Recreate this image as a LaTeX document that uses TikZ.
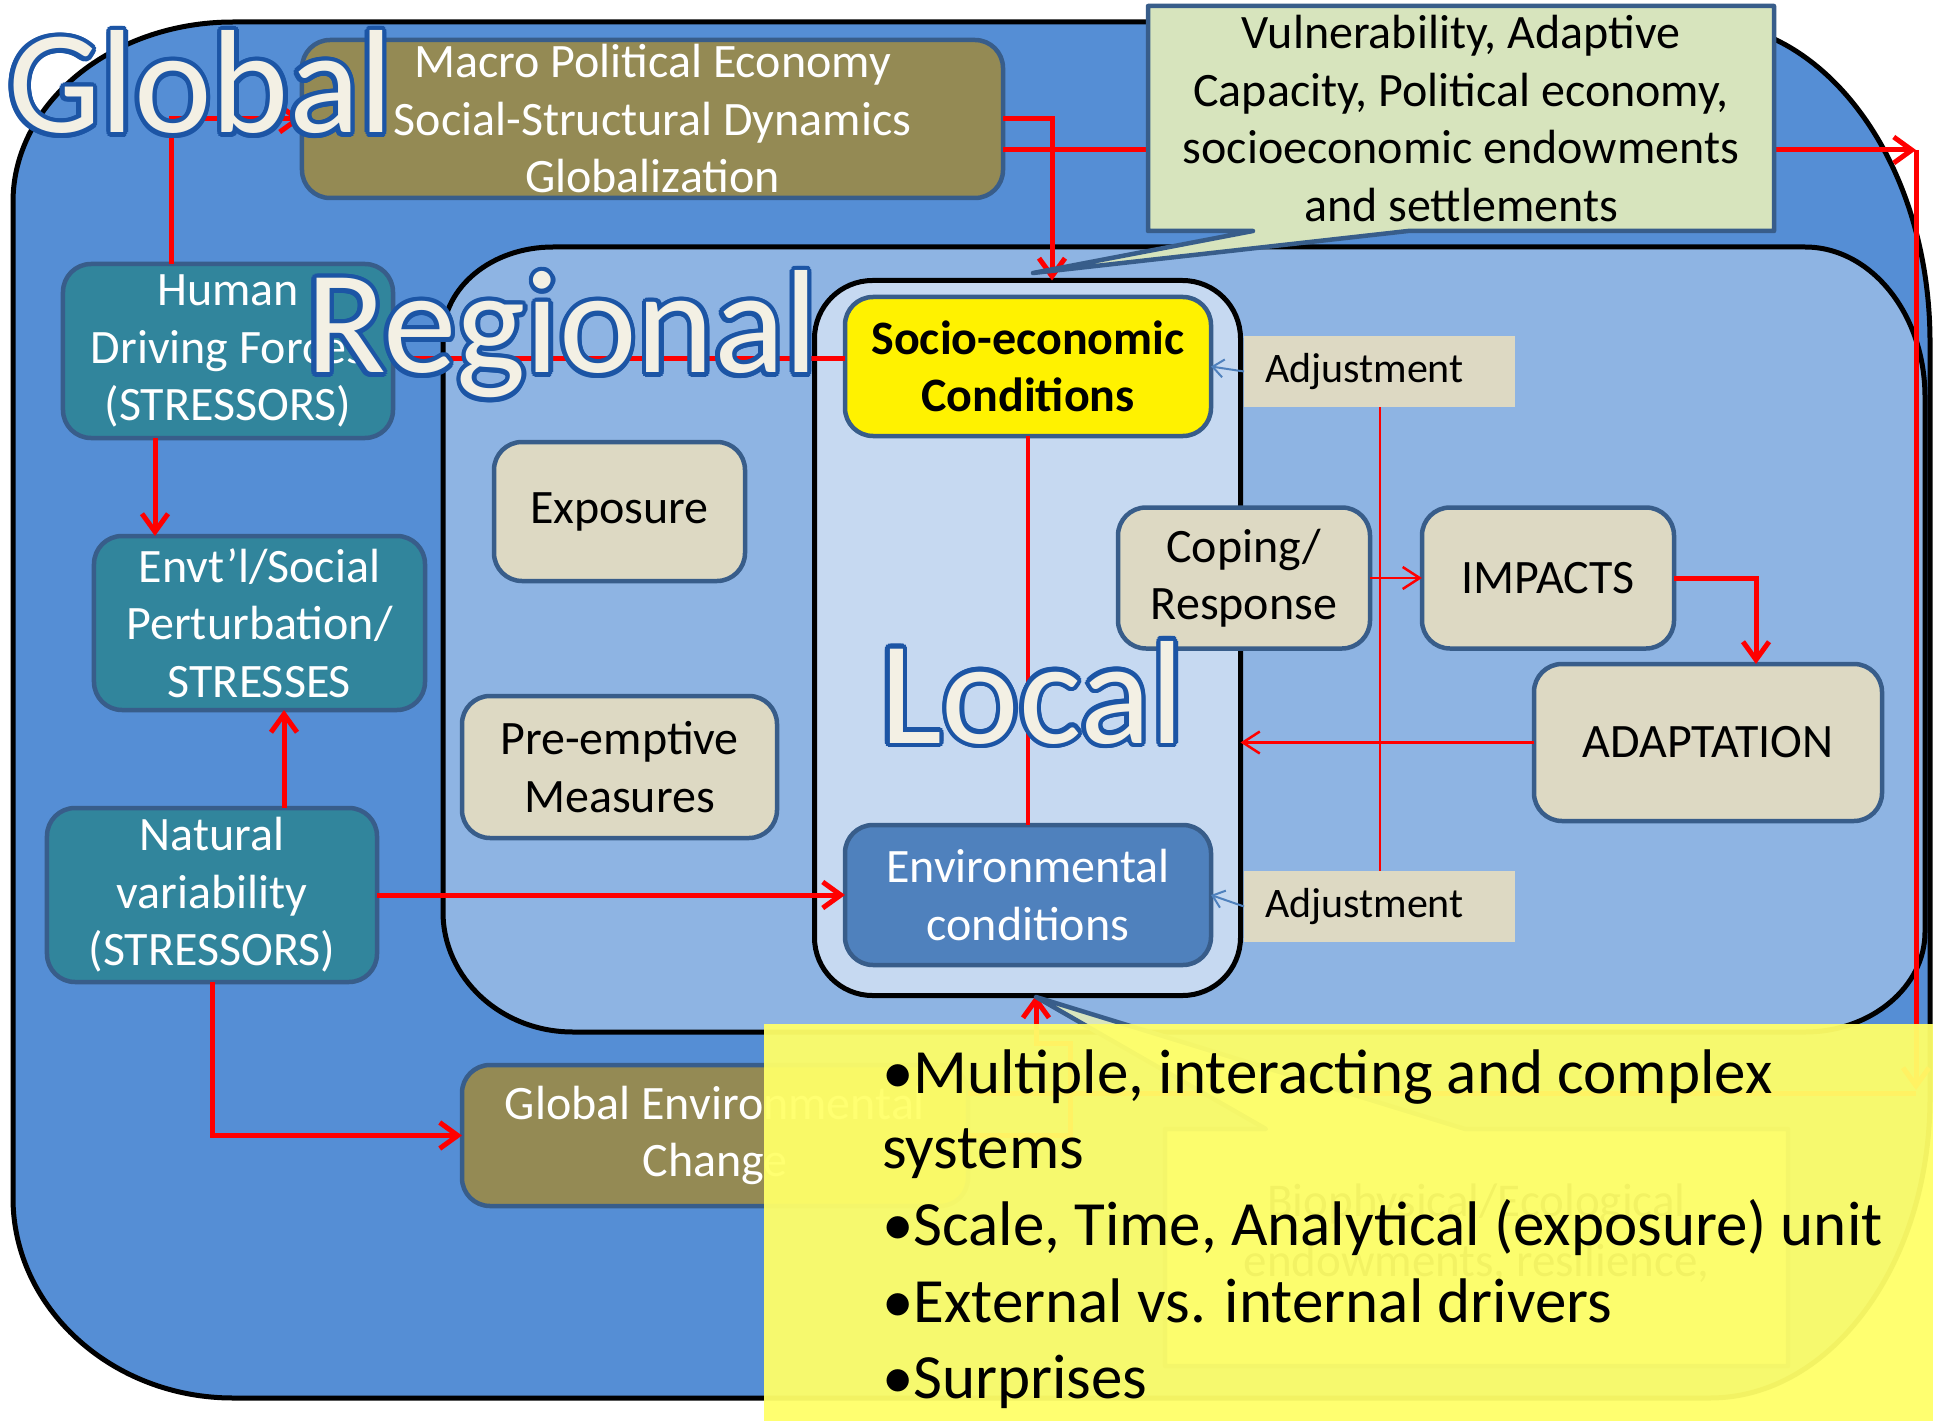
\documentclass[tikz,border=0pt]{standalone}
\usepackage{fontspec}
\setmainfont{Carlito}
\usetikzlibrary{arrows.meta,calc}
\definecolor{outerfill}{RGB}{85,142,213}
\definecolor{regfill}{RGB}{142,180,227}
\definecolor{locfill}{RGB}{198,217,241}
\definecolor{nodeline}{RGB}{56,93,138}
\definecolor{tealfill}{RGB}{49,133,156}
\definecolor{olivefill}{RGB}{148,138,84}
\definecolor{tanfill}{RGB}{221,217,195}
\definecolor{calloutfill}{RGB}{215,228,189}
\definecolor{envfill}{RGB}{79,129,189}
\definecolor{adjblue}{RGB}{79,129,189}
\definecolor{wordfill}{RGB}{243,240,228}
\definecolor{wordline}{RGB}{28,85,165}
\definecolor{overlayfill}{RGB}{255,255,105}
\newcommand\outlinedword[3]{%
  \foreach \k in {1,...,16}{
    \node[bigword,text=wordline] (#1o\k) at ($(#2)+({\k*22.5}:4.5)$) {#3};
  }
  \node[bigword,text=wordfill] (#1) at (#2) {#3};
}
\begin{document}
\begin{tikzpicture}[x=1bp,y=-1bp,
  every node/.style={inner sep=0pt,outer sep=0pt},
  boxbase/.style={draw=nodeline,line width=4.5bp,rounded corners=28bp,align=center,font=\fontsize{48bp}{57.5bp}\selectfont},
  tealbox/.style={boxbase,fill=tealfill,text=white},
  olivebox/.style={boxbase,fill=olivefill,text=white},
  tanbox/.style={boxbase,fill=tanfill,text=black},
  adjbox/.style={fill=tanfill,text width=229bp,inner xsep=21bp,minimum height=71bp,align=left,font=\fontsize{42bp}{50bp}\selectfont},
  bigword/.style={font=\fontsize{147bp}{147bp}\selectfont,anchor=base west},
  redthick/.style={draw=red,line width=5bp},
  redthin/.style={draw=red,line width=2.5bp},
  thicktip/.style={-{Straight Barb[length=18bp,width=26bp]}},
  thintip/.style={-{Straight Barb[length=17bp,width=22bp]}},
  bluetip/.style={draw=adjblue,line width=2bp,-{Straight Barb[length=11bp,width=18bp]}},
  regionline/.style={draw=black,line width=5bp},
  callout/.style={draw=nodeline,line width=4.5bp,fill=calloutfill,line join=round},
  bullettext/.style={font=\fontsize{63bp}{76bp}\selectfont,anchor=base west,text=black},
]
\useasboundingbox (0,0) rectangle (1933,1421);
\fill[white] (0,0) rectangle (1933,1421);

% Global (outer) region
\path[regionline,fill=outerfill]
  (233,22) -- (1700,22) .. controls (1827,22) and (1930,165) .. (1930,342)
  -- (1930,1098) .. controls (1930,1264) and (1831,1398) .. (1710,1398)
  -- (233,1398) .. controls (112,1398) and (13,1308) .. (13,1198)
  -- (13,202) .. controls (13,103) and (112,22) .. (233,22) -- cycle;

% Regional region
\path[regionline,fill=regfill]
  (553,247) -- (1805,247) .. controls (1871,247) and (1925,314) .. (1925,397)
  -- (1925,932) .. controls (1925,987) and (1871,1032) .. (1805,1032)
  -- (573,1032) .. controls (501,1032) and (443,978) .. (443,912)
  -- (443,337) .. controls (443,287) and (492,247) .. (553,247) -- cycle;

% Local region
\node[draw=black,line width=5bp,fill=locfill,rounded corners=58bp,minimum width=426bp,minimum height=715bp] (local) at (1027.5,638) {};

% boxes
\node[olivebox,minimum width=701bp,minimum height=158bp] (macro) at (652.5,119) {Macro Political Economy\\Social-Structural Dynamics\\Globalization};
\node[tealbox,minimum width=330bp,minimum height=174bp] (hdf) at (228,351) {Human\\Driving Forces\\(STRESSORS)};
\node[tealbox,minimum width=331bp,minimum height=174bp] (envt) at (259.5,623) {Envt’l/Social\\Perturbation/\\STRESSES};
\node[tealbox,minimum width=330bp,minimum height=174bp] (nat) at (212,895) {Natural\\variability\\(STRESSORS)};
\node[olivebox,minimum width=506bp,minimum height=141bp] (gec) at (715,1135.5) {Global Environmental\\Change};
\node[tanbox,minimum width=251bp,minimum height=139bp] (expo) at (619.5,511.5) {Exposure};
\node[tanbox,minimum width=315bp,minimum height=142bp] (pre) at (619.5,767) {Pre-emptive\\Measures};
\node[boxbase,fill=yellow,font=\fontsize{48bp}{57.5bp}\selectfont\bfseries,minimum width=366bp,minimum height=139bp] (socio) at (1028,366.5) {Socio-economic\\Conditions};
\node[boxbase,fill=envfill,text=white,minimum width=366bp,minimum height=140bp] (env) at (1028,895) {Environmental\\conditions};
\node[tanbox,minimum width=252bp,minimum height=141bp] (coping) at (1244,578) {Coping/\\Response};
\node[tanbox,minimum width=252bp,minimum height=141bp,yshift=-3.5bp] (impacts) at (1548,574.5) {IMPACTS};
\node[tanbox,minimum width=348bp,minimum height=157bp] (adapt) at (1708,742.5) {ADAPTATION};
\node[adjbox] (adj1) at (1379.5,371.5) {Adjustment};
\node[adjbox] (adj2) at (1379.5,906.5) {Adjustment};

% connectors
\coordinate (gm) at (171,118);
\draw[redthick,thicktip] (hdf.north -| gm) |- (macro.west);
\coordinate (ml) at (1052,0);
\draw[redthick,thicktip] (macro.east) -| (local.north -| ml);
\coordinate (rtop) at (1916,150);
\draw[redthick,thicktip] (macro.east |- rtop) -- (rtop);
\coordinate (rbot) at (1916,1090);
\draw[redthick,thicktip] (rtop) -- (rbot);
\coordinate (rcorner) at (1916,1093);
\draw[redthick] (gec.east |- rcorner) -- (rcorner);
\coordinate (g1) at (1070,1135.5);
\coordinate (g2) at (1070,1043);
\coordinate (g3) at (1036,1043);
\draw[redthick,thicktip] (gec.east) -- (g1) -- (g2) -- (g3) -- (local.south -| g3);
\coordinate (sl) at (0,358);
\draw[redthick] (hdf.east |- sl) -- (socio.west |- sl);
\coordinate (hx) at (155,0);
\draw[redthick,thicktip] (hdf.south -| hx) -- (envt.north -| hx);
\coordinate (nx) at (284,0);
\draw[redthick,thicktip] (nat.north -| nx) -- (envt.south -| nx);
\draw[redthick,thicktip] (nat.east) -- (env.west);
\draw[redthick,thicktip] (nat.south) |- (gec.west);
\draw[draw=red,line width=4bp] (socio.south) -- (env.north);
\draw[redthin,thintip] (coping.east) -- (coping.east -| impacts.west);
\coordinate (ax) at (1756,0);
\draw[redthick,thicktip] (impacts.east) -| (adapt.north -| ax);
\draw[redthin,thintip] (adapt.west) -- (adapt.west -| local.east);
\draw[draw=red,line width=2bp] (adj1.south) -- (adj2.north);
\draw[bluetip] (adj1.west) -- (socio.east);
\draw[bluetip] (adj2.west) -- (env.east);

% big words
\coordinate (globalpos) at (8,133);
\coordinate (regionalpos) at (306,373);
\coordinate (localpos) at (880,743);
\outlinedword{globalw}{globalpos}{Global}
\outlinedword{regionalw}{regionalpos}{Regional}
\outlinedword{localw}{localpos}{Local}

% callout top
\draw[callout] (1148,6) -- (1774,6) -- (1774,231) -- (1408,231) -- (1033,273) -- (1253,231) -- (1148,231) -- cycle;
\node[font=\fontsize{48bp}{57.5bp}\selectfont,align=center] (vuln) at (1461,118.5) {Vulnerability, Adaptive\\Capacity, Political economy,\\socioeconomic endowments\\and settlements};

% hidden callout
\draw[callout] (1165,1129) -- (1266,1129) -- (1036,997) -- (1465,1129) -- (1788,1129) -- (1788,1366) -- (1165,1366) -- cycle;
\node[font=\fontsize{47bp}{60bp}\selectfont,align=center] (bio) at (1476.5,1233) {Biophysical/Ecological\\endowments, resilience,};

% translucent yellow overlay
\fill[overlayfill,opacity=0.95] (764,1024) rectangle (1933,1421);
\node[bullettext] (b1) at (882,1093) {•Multiple, interacting and complex};
\node[bullettext] (b2) at (882,1168) {systems};
\node[bullettext] (b3) at (882,1245) {•Scale, Time, Analytical (exposure) unit};
\node[bullettext] (b4) at (882,1322) {•External vs. internal drivers};
\node[bullettext] (b5) at (882,1398) {•Surprises};
\end{tikzpicture}
\end{document}
